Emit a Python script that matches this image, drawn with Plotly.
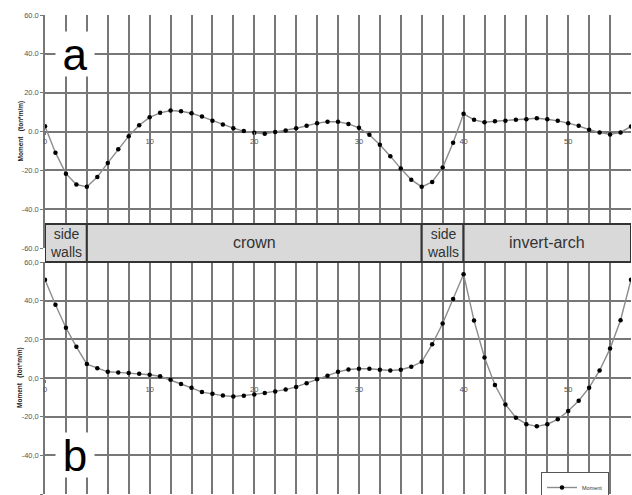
import plotly.graph_objects as go

# ---------------- data ----------------
x_vals = list(range(57))
moment_a = [2.7, -10.9, -21.7, -27.3, -28.5, -23.4, -16.2, -9.1, -2.4, 3.2,
            7.3, 9.6, 10.8, 10.4, 9.4, 7.7, 5.6, 3.6, 1.7, 0.2,
            -0.7, -1.2, -0.3, 0.5, 1.7, 2.9, 4.3, 5.0, 5.0, 3.9,
            1.9, -1.7, -6.8, -12.7, -19.1, -24.8, -28.5, -26.0, -18.6, -5.8,
            9.1, 6.0, 4.8, 5.3, 5.6, 6.0, 6.3, 6.8, 6.3, 5.5,
            4.3, 2.9, 0.9, -0.5, -1.5, -0.5, 2.6]
moment_b = [50.8, 37.9, 26.0, 16.1, 7.2, 5.0, 3.2, 2.9, 2.6, 2.2,
            1.7, 0.9, -0.9, -3.1, -5.1, -7.3, -8.2, -9.1, -9.6, -9.2,
            -8.5, -7.7, -7.0, -6.0, -4.6, -2.7, -0.7, 1.2, 3.2, 4.4,
            4.8, 4.8, 4.3, 3.9, 4.3, 5.8, 8.4, 17.4, 28.2, 40.9,
            53.7, 29.7, 10.6, -3.6, -13.7, -20.5, -23.9, -25.0, -23.9, -21.4,
            -17.1, -11.8, -5.0, 3.9, 15.2, 29.9, 50.8]

y_tickvals = [60, 40, 20, 0, -20, -40, -60]
y_ticktext_a = ["60.0", "40.0", "20.0", "0.0", "-20.0", "-40.0", "-60.0"]
y_ticktext_b = ["60,0", "40,0", "20,0", "0,0", "-20,0", "-40,0", "-60,0"]
x_tickvals = [0, 10, 20, 30, 40, 50]

segment_bounds = [0, 4, 36, 40, 56]
segment_labels = ["side<br>walls", "crown", "side<br>walls", "invert-arch"]
segment_sizes = [14, 16, 14, 16]

axis_title = "Moment   (ton*m/m)"
series_name = "Moment"

# ---------------- style ----------------
GRID = "#777777"
FONT = "Liberation Sans, Arial, sans-serif"
TICKFONT = dict(family=FONT, size=7.5, color="#555555")
LINE = "#8c8c8c"

W, H = 632, 495
ML, MR, MT, MB = 45, 1, 15, 1
plot_h = H - MT - MB
PLOT_BOTTOM = H - MB  # pixel row of plot bottom


def pf(pix):
    """pixel row -> paper fraction"""
    return (PLOT_BOTTOM - pix) / plot_h


top_dom = [pf(248), 1.0]
bot_dom = [0.0, pf(262)]

fig = go.Figure()
fig.add_trace(go.Scatter(x=x_vals, y=moment_a, xaxis="x", yaxis="y", mode="lines+markers",
                         line=dict(color=LINE, width=1.4), marker=dict(color="black", size=4.5),
                         name=series_name, showlegend=False))
fig.add_trace(go.Scatter(x=x_vals, y=moment_b, xaxis="x2", yaxis="y2", mode="lines+markers",
                         line=dict(color=LINE, width=1.4), marker=dict(color="black", size=4.5),
                         name=series_name, showlegend=True))


def xax(pos):
    return dict(range=[0, 56], domain=[0, 1], anchor="free", position=pos,
                tickvals=x_tickvals, ticks="outside", ticklen=3, tickcolor=GRID,
                tickfont=TICKFONT, showgrid=True, gridcolor=GRID, gridwidth=1.5,
                minor=dict(dtick=2, tick0=0, showgrid=True, gridcolor=GRID, gridwidth=1.5),
                showline=False, zeroline=False, fixedrange=True, automargin=False)


def yax(dom, txt, anchor):
    return dict(range=[-60, 60], domain=dom, anchor=anchor, tickvals=y_tickvals, ticktext=txt,
                ticks="outside", ticklen=3, tickcolor=GRID, tickfont=TICKFONT,
                showgrid=True, gridcolor=GRID, gridwidth=1.5, zeroline=False,
                showline=True, linecolor=GRID, linewidth=1.5, fixedrange=True,
                automargin=False)


shapes = []
annotations = []
band_y0, band_y1 = pf(262), pf(224)
for i, lab in enumerate(segment_labels):
    x0, x1 = segment_bounds[i], segment_bounds[i + 1]
    shapes.append(dict(type="rect", xref="x", yref="paper", x0=x0, x1=x1, y0=band_y0, y1=band_y1,
                       fillcolor="#d9d9d9", line=dict(color="#333333", width=2), layer="above"))
    annotations.append(dict(xref="x", yref="paper", x=(x0 + x1) / 2, y=(band_y0 + band_y1) / 2,
                            text=lab, showarrow=False,
                            font=dict(family=FONT, size=segment_sizes[i], color="#333333")))

# panel letters
for letter, yref, yv in [("a", "y", 40), ("b", "y2", -40)]:
    annotations.append(dict(xref="x", yref=yref, x=2.9, y=yv, text=letter, showarrow=False,
                            bgcolor="white", width=38, height=44, borderpad=0,
                            font=dict(family=FONT, size=44, color="black")))

# axis titles
for yref in ["y domain", "y2 domain"]:
    annotations.append(dict(xref="paper", yref=yref, x=0, y=0.5, xshift=-31, text=axis_title,
                            textangle=-90, showarrow=False,
                            font=dict(family=FONT, size=6.5, color="#222222", weight="bold")))

fig.update_layout(
    width=W, height=H, margin=dict(l=ML, r=MR, t=MT, b=MB, autoexpand=False),
    paper_bgcolor="white", plot_bgcolor="white",
    xaxis=xax(pf(131)), yaxis=yax(top_dom, y_ticktext_a, "x"),
    xaxis2=xax(pf(379)), yaxis2=yax(bot_dom, y_ticktext_b, "x2"),
    shapes=shapes, annotations=annotations,
    showlegend=True,
    legend=dict(x=(541 - ML) / (W - ML - MR), y=pf(472), xanchor="left", yanchor="top",
                bgcolor="white", bordercolor="#555555", borderwidth=1,
                font=dict(family=FONT, size=5.5, color="#333"),
                itemwidth=30, tracegroupgap=0),
)

fig.write_html("out.html", config={"displayModeBar": False},
               post_script="document.body.style.margin='0';document.body.style.overflow='hidden';")
